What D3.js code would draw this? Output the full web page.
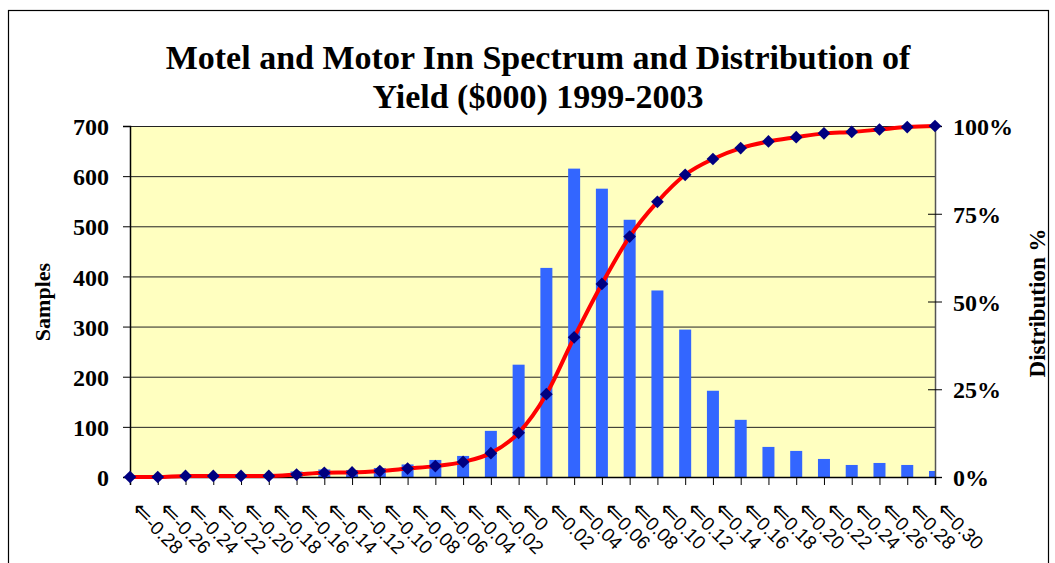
<!DOCTYPE html>
<html>
<head>
<meta charset="utf-8">
<script src="https://cdn.jsdelivr.net/npm/d3@7"></script>
<style>
  body { margin: 0; background: #fff; }
  svg { display: block; }
  .axis text { font-family: 'Liberation Serif', 'Times New Roman', serif; font-weight: bold; font-size: 24px; fill: #000; }
  .xaxis text { font-family: 'Liberation Sans', Arial, sans-serif; font-weight: normal; font-size: 19px; }
  .xaxis .arrow { font-family: 'DejaVu Sans', sans-serif; font-size: 24px; }
  .grid line { stroke: #222; stroke-width: 1; }
  .grid path { display: none; }
</style>
</head>
<body>
<svg width="1055" height="563"></svg>
<script>
// yield bins (upper bound of each bin)
let bins = ['-0.28', '-0.26', '-0.24', '-0.22', '-0.20', '-0.18', '-0.16', '-0.14', '-0.12', '-0.10',
  '-0.08', '-0.06', '-0.04', '-0.02', '0', '0.02', '0.04', '0.06', '0.08', '0.10',
  '0.12', '0.14', '0.16', '0.18', '0.20', '0.22', '0.24', '0.26', '0.28', '0.30'];

// samples per bin (bars)
let samples = [0, 0, 2, 2, 2, 3, 11, 15, 14, 18, 25, 34, 42, 92, 224, 417,
  615, 575, 513, 372, 294, 172, 114, 60, 52, 36, 24, 28, 24, 12];

// cumulative distribution % (line)
let distribution = [0, 0, 0.3, 0.3, 0.3, 0.3, 0.7, 1.2, 1.3, 1.7, 2.4, 3.1, 4.3, 6.8, 12.6, 23.6,
  39.8, 55.0, 68.5, 78.4, 86.1, 90.6, 93.7, 95.6, 96.8, 97.9, 98.3, 99.0, 99.7, 100];

let leftTicks = [0, 100, 200, 300, 400, 500, 600, 700];
let rightTicks = [0, 25, 50, 75, 100];

let plotLeft = 130, plotRight = 935, plotTop = 126, plotBottom = 477;
let width = plotRight - plotLeft;
let height = plotBottom - plotTop;

let svg = d3.select('svg');

// outer chart border
svg.append('rect')
  .attr('x', 8.5).attr('y', 10.5)
  .attr('width', 1040).attr('height', 600)
  .attr('fill', 'none')
  .attr('stroke', '#000')
  .attr('stroke-width', 1.2);

svg.append('text')
  .attr('x', 538).attr('y', 69)
  .attr('text-anchor', 'middle')
  .attr('font-family', "'Liberation Serif', 'Times New Roman', serif")
  .attr('font-weight', 'bold')
  .attr('font-size', 34)
  .text('Motel and Motor Inn Spectrum and Distribution of');

svg.append('text')
  .attr('x', 538).attr('y', 108)
  .attr('text-anchor', 'middle')
  .attr('font-family', "'Liberation Serif', 'Times New Roman', serif")
  .attr('font-weight', 'bold')
  .attr('font-size', 34)
  .text('Yield ($000) 1999-2003');

let graph = svg.append('g')
  .attr('transform', `translate(${plotLeft}, ${plotTop})`);

const xScale = d3.scalePoint()
  .domain(bins)
  .range([0, width]);

const yScale = d3.scaleLinear()
  .domain([0, 700])
  .range([height, 0]);

const y2Scale = d3.scaleLinear()
  .domain([0, 100])
  .range([height, 0]);

graph.append('defs').append('clipPath')
  .attr('id', 'plot-clip')
  .append('rect')
  .attr('width', width).attr('height', height);

// plot area background
graph.append('rect')
  .attr('width', width).attr('height', height)
  .attr('fill', '#FFFFC0');

// horizontal grid lines
graph.append('g')
  .attr('class', 'grid')
  .call(d3.axisLeft(yScale)
    .tickValues(leftTicks)
    .tickSize(-width)
    .tickFormat('')
  );

// bars, centred on the category ticks and clipped at the plot edges
graph.append('g')
  .attr('clip-path', 'url(#plot-clip)')
  .selectAll('rect')
  .data(bins)
  .enter()
  .append('rect')
  .attr('x', (d) => xScale(d) - 6)
  .attr('y', (d, i) => yScale(samples[i]))
  .attr('width', 12)
  .attr('height', (d, i) => height - yScale(samples[i]))
  .attr('fill', '#3366FF');

// left axis
let yAxis = graph.append('g')
  .attr('class', 'axis')
  .call(d3.axisLeft(yScale).tickValues(leftTicks).tickSize(7).tickPadding(14));
yAxis.select('.domain').attr('stroke', '#000').attr('stroke-width', 1.5);
yAxis.selectAll('text').attr('dy', '0.36em');

// right axis
let y2Axis = graph.append('g')
  .attr('class', 'axis')
  .attr('transform', `translate(${width}, 0)`)
  .call(d3.axisRight(y2Scale).tickValues(rightTicks).tickSize(7).tickPadding(11)
    .tickFormat((d) => d + '%'));
y2Axis.select('.domain').attr('stroke', '#555').attr('stroke-width', 1.5);
y2Axis.selectAll('.tick line').attr('x1', -7);
y2Axis.selectAll('text').attr('dy', '0.36em');

// bottom axis
let xAxis = graph.append('g')
  .attr('class', 'axis xaxis')
  .attr('transform', `translate(0, ${height})`)
  .call(d3.axisBottom(xScale).tickSize(8).tickFormat(''));
xAxis.select('.domain').attr('stroke', '#000').attr('stroke-width', 1.5);

let tickLabels = xAxis.selectAll('.tick')
  .append('text')
  .attr('transform', 'translate(9, 24) rotate(45)')
  .attr('text-anchor', 'start')
  .attr('dy', '0.7em')
  .attr('fill', '#000');
tickLabels.append('tspan').attr('class', 'arrow').text('\u21D0');
tickLabels.append('tspan').text((d) => d);

// cumulative distribution line
const line = d3.line()
  .x((d, i) => xScale(bins[i]))
  .y((d) => y2Scale(d))
  .curve(d3.curveMonotoneX);

graph.append('path')
  .datum(distribution)
  .attr('d', line)
  .attr('fill', 'none')
  .attr('stroke', '#FF0000')
  .attr('stroke-width', 4);

graph.selectAll('.marker')
  .data(distribution)
  .enter()
  .append('rect')
  .attr('class', 'marker')
  .attr('x', -4.5).attr('y', -4.5)
  .attr('width', 9).attr('height', 9)
  .attr('transform', (d, i) => `translate(${xScale(bins[i])}, ${y2Scale(d)}) rotate(45)`)
  .attr('fill', '#000080');

svg.append('text')
  .attr('transform', 'translate(50, 302) rotate(-90)')
  .attr('text-anchor', 'middle')
  .attr('font-family', "'Liberation Serif', 'Times New Roman', serif")
  .attr('font-weight', 'bold')
  .attr('font-size', 22)
  .text('Samples');

svg.append('text')
  .attr('transform', 'translate(1045, 303) rotate(-90)')
  .attr('text-anchor', 'middle')
  .attr('font-family', "'Liberation Serif', 'Times New Roman', serif")
  .attr('font-weight', 'bold')
  .attr('font-size', 23)
  .text('Distribution %');
</script>
</body>
</html>
